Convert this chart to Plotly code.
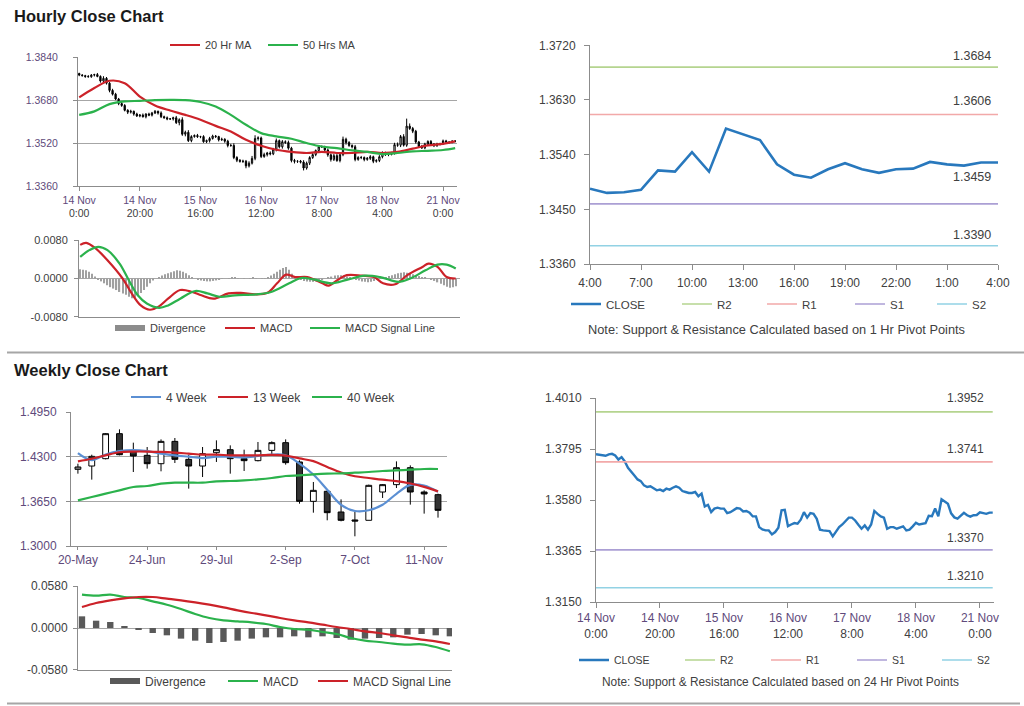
import plotly.graph_objects as go

W, H = 1024, 706
FONT = "Liberation Sans, Arial, sans-serif"
PURPLE = "#604a7b"
DARK = "#404040"
AXIS = "#8c8c8c"
GRID = "#a6a6a6"
PIP = 0.0001

# ================= HOURLY DATA (14 Nov 0:00 -> 21 Nov 4:00, 125 bars) =================
hour_close = [
    1.3773, 1.3771, 1.3768, 1.3767, 1.3773, 1.3775, 1.3768, 1.3751, 1.3761, 1.3743,
    1.3716, 1.3702, 1.3684, 1.3667, 1.3660, 1.3642, 1.3635, 1.3638, 1.3628, 1.3621,
    1.3624, 1.3618, 1.3628, 1.3624, 1.3632,
    1.3638, 1.3632, 1.3618, 1.3614, 1.3610, 1.3610, 1.3614, 1.3596, 1.3607, 1.3553,
    1.3560, 1.3529, 1.3544, 1.3548, 1.3544, 1.3544, 1.3525, 1.3529, 1.3537, 1.3546,
    1.3544, 1.3532, 1.3534, 1.3527, 1.3511,
    1.3511, 1.3466, 1.3456, 1.3452, 1.3452, 1.3435, 1.3445, 1.3463, 1.3537, 1.3539,
    1.3470, 1.3477, 1.3483, 1.3480, 1.3497, 1.3529, 1.3506, 1.3525, 1.3522, 1.3501,
    1.3455, 1.3452, 1.3452, 1.3449, 1.3427,
    1.3445, 1.3466, 1.3477, 1.3492, 1.3506, 1.3506, 1.3494, 1.3476, 1.3459, 1.3473,
    1.3455, 1.3477, 1.3534, 1.3522, 1.3511, 1.3506, 1.3459, 1.3466, 1.3466, 1.3459,
    1.3463, 1.3469, 1.3452, 1.3455, 1.3469,
    1.3484, 1.3477, 1.3478, 1.3482, 1.3514, 1.3512, 1.3544, 1.3512, 1.3583, 1.3574,
    1.3564, 1.3524, 1.3507, 1.3502, 1.3516, 1.3526, 1.3516, 1.3510, 1.3516, 1.3517,
    1.3528, 1.3524, 1.3522, 1.3527, 1.3527,
]
hour_first_open = 1.3779
hour_up_wick_pips = [
    3, 4, 3, 5, 4, 3, 6, 4, 8, 5, 4, 6, 5, 4, 7, 5, 4, 6, 3, 5, 4, 6, 3, 5, 4,
    5, 3, 6, 4, 5, 3, 4, 7, 5, 9, 6, 8, 5, 4, 6, 3, 5, 4, 6, 5, 4, 3, 6, 4, 5,
    6, 8, 5, 4, 6, 5, 7, 9, 12, 6, 5, 7, 4, 6, 5, 8, 4, 6, 5, 7, 5, 6, 4, 5, 7,
    6, 5, 7, 4, 6, 5, 4, 6, 5, 7, 6, 9, 10, 6, 5, 4, 7, 5, 6, 4, 5, 6, 4, 5, 6,
    5, 4, 6, 5, 7, 8, 6, 9, 28, 10, 6, 5, 4, 6, 5, 4, 5, 4, 5, 4, 5, 4, 3, 4, 3,
]
hour_dn_wick_pips = [
    4, 3, 5, 3, 4, 5, 3, 6, 4, 5, 7, 5, 4, 6, 5, 4, 7, 5, 6, 4, 5, 3, 6, 4, 5,
    4, 6, 5, 3, 5, 4, 6, 5, 10, 6, 8, 5, 6, 4, 5, 6, 4, 5, 7, 4, 5, 6, 4, 6, 7,
    5, 6, 7, 5, 6, 9, 6, 5, 7, 8, 6, 5, 7, 6, 5, 8, 6, 7, 5, 6, 7, 8, 6, 5, 9,
    6, 7, 5, 6, 5, 4, 6, 7, 8, 6, 5, 7, 6, 8, 5, 6, 7, 5, 6, 7, 5, 6, 7, 5, 6,
    6, 5, 6, 4, 5, 6, 7, 5, 6, 5, 7, 6, 5, 4, 5, 6, 4, 5, 4, 5, 4, 5, 4, 3, 4,
]
hour_ticks = [0, 20, 40, 60, 80, 100, 120]
hour_tick_days = ["14 Nov", "14 Nov", "15 Nov", "16 Nov", "17 Nov", "18 Nov", "21 Nov"]
hour_tick_times = ["0:00", "20:00", "16:00", "12:00", "8:00", "4:00", "0:00"]

ma_hours = [0, 5, 10, 15, 20, 25, 30, 35, 40, 45, 50, 55, 60, 65, 70, 75, 80, 85,
            90, 95, 100, 105, 110, 115, 120, 124]
ma20_hourly = [1.3690, 1.3725, 1.3752, 1.3743, 1.3693, 1.3660, 1.3641, 1.3625, 1.3607,
               1.3584, 1.3563, 1.3532, 1.3510, 1.3495, 1.3487, 1.3483, 1.3487, 1.3483,
               1.3483, 1.3487, 1.3483, 1.3487, 1.3499, 1.3511, 1.3517, 1.3526]
ma50_hourly = [1.3625, 1.3638, 1.3665, 1.3675, 1.3677, 1.3680, 1.3681, 1.3680, 1.3673,
               1.3656, 1.3625, 1.3588, 1.3557, 1.3545, 1.3536, 1.3520, 1.3507, 1.3501,
               1.3493, 1.3487, 1.3479, 1.3483, 1.3489, 1.3491, 1.3494, 1.3501]

macd_hourly_x = [0, 2, 5, 9, 14, 17, 20, 23, 26, 29, 33, 37, 40, 44, 49, 53, 58, 62,
                 65, 68, 71, 75, 80, 82, 85, 88, 93, 97, 100, 104, 108, 113, 115, 118, 121, 124]
macd_hourly = [0.0070, 0.0074, 0.0063, 0.0038, 0.0000, -0.0031, -0.0056, -0.0065, -0.0058,
               -0.0042, -0.0024, -0.0028, -0.0035, -0.0042, -0.0031, -0.0030, -0.0033, -0.0029,
               -0.0010, 0.0008, 0.0003, 0.0003, -0.0010, -0.0015, -0.0003, 0.0007, 0.0006,
               0.0003, -0.0010, -0.0012, 0.0007, 0.0024, 0.0031, 0.0024, 0.0003, 0.0000]
signal_hourly_x = [0, 3, 6, 9, 13, 16, 19, 22, 26, 29, 33, 38, 42, 46, 51, 58, 63, 69,
                   73, 77, 83, 88, 94, 99, 105, 109, 114, 118, 121, 124]
signal_hourly = [0.0045, 0.0059, 0.0066, 0.0059, 0.0031, -0.0003, -0.0035, -0.0052, -0.0061,
                 -0.0056, -0.0042, -0.0026, -0.0031, -0.0038, -0.0035, -0.0033, -0.0028, -0.0010,
                 0.0001, -0.0002, -0.0010, -0.0003, 0.0006, 0.0003, -0.0007, 0.0000, 0.0017,
                 0.0029, 0.0029, 0.0021]
divergence_hourly = [
    0.0019, 0.0018, 0.0017, 0.0014, 0.0010, 0.0004, -0.0002, -0.0006, -0.0010, -0.0014,
    -0.0018, -0.0021, -0.0024, -0.0028, -0.0031, -0.0034, -0.0038, -0.0041, -0.0040, -0.0036,
    -0.0030, -0.0024, -0.0017, -0.0010, -0.0004,
    0.0000, 0.0003, 0.0006, 0.0009, 0.0011, 0.0013, 0.0015, 0.0017, 0.0016, 0.0014,
    0.0011, 0.0007, 0.0003, 0.0000, -0.0002, -0.0004, -0.0005, -0.0006, -0.0006, -0.0005,
    -0.0004, -0.0002, -0.0001, 0.0000, 0.0001,
    0.0002, 0.0002, 0.0001, 0.0000, -0.0001, 0.0000, 0.0001, 0.0002, 0.0001, 0.0000,
    -0.0001, -0.0001, 0.0002, 0.0006, 0.0010, 0.0014, 0.0018, 0.0022, 0.0024, 0.0018,
    0.0010, 0.0004, -0.0001, -0.0003, -0.0005,
    -0.0006, -0.0007, -0.0007, -0.0006, -0.0004, -0.0002, 0.0000, 0.0002, 0.0004, 0.0006,
    0.0007, 0.0007, 0.0006, 0.0004, 0.0002, 0.0000, -0.0002, -0.0004, -0.0006, -0.0007,
    -0.0008, -0.0007, -0.0005, -0.0003, -0.0001,
    0.0001, 0.0003, 0.0005, 0.0007, 0.0009, 0.0011, 0.0012, 0.0013, 0.0012, 0.0011,
    0.0009, 0.0007, 0.0005, 0.0003, 0.0002, 0.0000, -0.0002, -0.0005, -0.0008, -0.0011,
    -0.0014, -0.0017, -0.0019, -0.0018, -0.0016,
]
macd_hourly_ticks = [-0.008, 0.0, 0.008]
macd_hourly_ticktext = ["-0.0080", "0.0000", "0.0080"]

last24_start = 100
last24_ticks = [0, 3, 6, 9, 12, 15, 18, 21, 24]
last24_labels = ["4:00", "7:00", "10:00", "13:00", "16:00", "19:00", "22:00", "1:00", "4:00"]

pivot_names = ["R2", "R1", "S1", "S2"]
pivot_1h_values = [1.3684, 1.3606, 1.3459, 1.3390]
pivot_24h_values = [1.3952, 1.3741, 1.3370, 1.3210]

# ================= WEEKLY DATA =================
weeks = ["20-May", "27-May", "3-Jun", "10-Jun", "17-Jun", "24-Jun", "1-Jul", "8-Jul",
         "15-Jul", "22-Jul", "29-Jul", "5-Aug", "12-Aug", "19-Aug", "26-Aug", "2-Sep",
         "9-Sep", "16-Sep", "23-Sep", "30-Sep", "7-Oct", "14-Oct", "21-Oct", "28-Oct",
         "4-Nov", "11-Nov", "18-Nov"]
week_tick_labels = ["20-May", "24-Jun", "29-Jul", "2-Sep", "7-Oct", "11-Nov"]
wk_open = [1.4116, 1.4164, 1.4271, 1.4635, 1.4368, 1.4320, 1.4198, 1.4523, 1.4261, 1.4164,
           1.4358, 1.4402, 1.4271, 1.4242, 1.4392, 1.4504, 1.4223, 1.3650, 1.3796, 1.3495,
           1.3379, 1.3374, 1.3786, 1.3893, 1.4140, 1.3786, 1.3747]
wk_close = [1.4150, 1.4305, 1.4635, 1.4329, 1.4310, 1.4198, 1.4523, 1.4261, 1.4164, 1.4344,
            1.4402, 1.4271, 1.4242, 1.4392, 1.4504, 1.4213, 1.3650, 1.3810, 1.3485, 1.3374,
            1.3364, 1.3883, 1.3893, 1.4140, 1.3786, 1.3757, 1.3519]
wk_high = [1.4198, 1.4329, 1.4644, 1.4698, 1.4504, 1.4441, 1.4552, 1.4572, 1.4329, 1.4441,
           1.4538, 1.4465, 1.4402, 1.4514, 1.4523, 1.4552, 1.4247, 1.3932, 1.3810, 1.3679,
           1.3495, 1.3893, 1.3902, 1.4232, 1.4174, 1.3810, 1.3762]
wk_low = [1.4053, 1.3966, 1.4261, 1.4320, 1.4077, 1.4126, 1.4087, 1.4208, 1.3835, 1.4004,
          1.4223, 1.4053, 1.4092, 1.4232, 1.4329, 1.4184, 1.3616, 1.3485, 1.3374, 1.3359,
          1.3141, 1.3374, 1.3699, 1.3844, 1.3602, 1.3471, 1.3413]
wk_ma4 = [1.4353, 1.4250, 1.4330, 1.4380, 1.4395, 1.4380, 1.4345, 1.4320, 1.4300, 1.4280,
          1.4300, 1.4300, 1.4290, 1.4310, 1.4330, 1.4320, 1.4200, 1.4040, 1.3820, 1.3600,
          1.3510, 1.3520, 1.3600, 1.3760, 1.3890, 1.3880, 1.3790]
wk_ma13 = [1.4232, 1.4270, 1.4320, 1.4365, 1.4375, 1.4375, 1.4370, 1.4360, 1.4345, 1.4330,
           1.4330, 1.4320, 1.4320, 1.4320, 1.4325, 1.4315, 1.4275, 1.4235, 1.4150, 1.4070,
           1.4015, 1.3990, 1.3965, 1.3945, 1.3910, 1.3860, 1.3795]
wk_ma40 = [1.3665, 1.3713, 1.3762, 1.3810, 1.3859, 1.3873, 1.3907, 1.3922, 1.3922, 1.3922,
           1.3941, 1.3946, 1.3956, 1.3970, 1.3990, 1.4019, 1.4029, 1.4043, 1.4053, 1.4058,
           1.4067, 1.4077, 1.4092, 1.4101, 1.4111, 1.4121, 1.4121]
wk_macd = [0.0460, 0.0446, 0.0460, 0.0428, 0.0414, 0.0368, 0.0322, 0.0262, 0.0193, 0.0138,
           0.0106, 0.0092, 0.0078, 0.0055, 0.0014, -0.0014, -0.0023, -0.0055, -0.0083, -0.0138,
           -0.0175, -0.0193, -0.0216, -0.0230, -0.0225, -0.0262, -0.0322]
wk_signal = [0.0290, 0.0345, 0.0382, 0.0409, 0.0428, 0.0428, 0.0405, 0.0382, 0.0354, 0.0322,
             0.0285, 0.0244, 0.0207, 0.0175, 0.0138, 0.0106, 0.0078, 0.0046, 0.0014, -0.0014,
             -0.0046, -0.0069, -0.0101, -0.0129, -0.0161, -0.0184, -0.0221]
wk_divergence = [0.0161, 0.0101, 0.0083, 0.0023, -0.0014, -0.0069, -0.0101, -0.0147, -0.0175,
                 -0.0207, -0.0193, -0.0175, -0.0147, -0.0129, -0.0129, -0.0115, -0.0129, -0.0115,
                 -0.0138, -0.0161, -0.0147, -0.0138, -0.0129, -0.0092, -0.0083, -0.0101, -0.0115]
macd_weekly_ticks = [-0.058, 0.0, 0.058]
macd_weekly_ticktext = ["-0.0580", "0.0000", "0.0580"]

# ================= derived =================
hour_idx = list(range(len(hour_close)))
hour_open = [hour_first_open] + hour_close[:-1]
hour_high = [max(o, c) + u * PIP for o, c, u in zip(hour_open, hour_close, hour_up_wick_pips)]
hour_low = [min(o, c) - d * PIP for o, c, d in zip(hour_open, hour_close, hour_dn_wick_pips)]
last24_close = hour_close[last24_start:]
last24_x = list(range(len(last24_close)))
wk_idx = list(range(len(weeks)))

# ================= helpers =================
def fx(p):
    return p / W


def fy(p):
    return 1 - p / H


legends = {}


def new_legend(sym_px, yc_px, size=11):
    n = len(legends) + 1
    key = "legend" if n == 1 else f"legend{n}"
    legends[key] = dict(
        x=fx(sym_px - 5), y=fy(yc_px), xanchor="left", yanchor="middle",
        orientation="h", bgcolor="rgba(0,0,0,0)", borderwidth=0,
        font=dict(family=FONT, size=size, color=DARK), itemwidth=30,
        itemclick=False, itemdoubleclick=False, tracegroupgap=0,
    )
    return key


RED = "#cc2229"
GREEN = "#2bb24c"
BLUE_MA = "#5b8fd3"
CLOSE_BLUE = "#2878bd"
PIVOT_COLORS = ["#b5d48f", "#f2a9a9", "#ab9fd4", "#92d2e4"]

fig = go.Figure()

# ---------- Panel 1: hourly candles ----------
fig.add_trace(go.Candlestick(
    x=hour_idx, open=hour_open, high=hour_high, low=hour_low, close=hour_close,
    increasing=dict(line=dict(color="black", width=1), fillcolor="white"),
    decreasing=dict(line=dict(color="black", width=1), fillcolor="black"),
    whiskerwidth=0, showlegend=False, xaxis="x", yaxis="y", hoverinfo="skip"))
fig.add_trace(go.Scatter(x=ma_hours, y=ma20_hourly, name="20 Hr MA", mode="lines",
                         line=dict(color=RED, width=2.2, shape="spline"),
                         xaxis="x", yaxis="y", legend=new_legend(170, 45)))
fig.add_trace(go.Scatter(x=ma_hours, y=ma50_hourly, name="50 Hrs MA", mode="lines",
                         line=dict(color=GREEN, width=2.2, shape="spline"),
                         xaxis="x", yaxis="y", legend=new_legend(268, 45)))

# ---------- Panel 2: hourly MACD ----------
fig.add_trace(go.Bar(x=hour_idx, y=divergence_hourly, width=0.4, marker=dict(color="#a0a0a0", line=dict(width=0)),
                     showlegend=False, xaxis="x2", yaxis="y2"))
fig.add_trace(go.Scatter(x=[None], y=[None], name="Divergence", mode="lines",
                         line=dict(color="#8c8c8c", width=6), xaxis="x2", yaxis="y2",
                         legend=new_legend(115, 328)))
fig.add_trace(go.Scatter(x=macd_hourly_x, y=macd_hourly, name="MACD", mode="lines",
                         line=dict(color=RED, width=2.2, shape="spline"),
                         xaxis="x2", yaxis="y2", legend=new_legend(225, 328)))
fig.add_trace(go.Scatter(x=signal_hourly_x, y=signal_hourly, name="MACD Signal Line", mode="lines",
                         line=dict(color=GREEN, width=2.2, shape="spline"),
                         xaxis="x2", yaxis="y2", legend=new_legend(310, 328)))

# ---------- Panel 3: last 24 hours close with 1 Hr pivots ----------
fig.add_trace(go.Scatter(x=last24_x, y=last24_close, name="CLOSE", mode="lines",
                         line=dict(color=CLOSE_BLUE, width=2.6), xaxis="x3", yaxis="y3",
                         legend=new_legend(571, 304, 11.5)))
for name, val, col, sp in zip(pivot_names, pivot_1h_values, PIVOT_COLORS, [682, 767, 855, 937]):
    fig.add_trace(go.Scatter(x=[last24_x[0], last24_x[-1]], y=[val, val], name=name, mode="lines",
                             line=dict(color=col, width=1.6), xaxis="x3", yaxis="y3",
                             legend=new_legend(sp, 304, 11.5)))

# ---------- Panel 4: weekly candles ----------
fig.add_trace(go.Candlestick(
    x=wk_idx, open=wk_open, high=wk_high, low=wk_low, close=wk_close,
    increasing=dict(line=dict(color="black", width=1), fillcolor="white"),
    decreasing=dict(line=dict(color="black", width=1), fillcolor="#333333"),
    whiskerwidth=0, showlegend=False, xaxis="x4", yaxis="y4", hoverinfo="skip"))
fig.add_trace(go.Scatter(x=wk_idx, y=wk_ma4, name="4 Week", mode="lines",
                         line=dict(color=BLUE_MA, width=2.2, shape="spline"),
                         xaxis="x4", yaxis="y4", legend=new_legend(131, 397, 12)))
fig.add_trace(go.Scatter(x=wk_idx, y=wk_ma13, name="13 Week", mode="lines",
                         line=dict(color=RED, width=2.2, shape="spline"),
                         xaxis="x4", yaxis="y4", legend=new_legend(218, 397, 12)))
fig.add_trace(go.Scatter(x=wk_idx, y=wk_ma40, name="40 Week", mode="lines",
                         line=dict(color=GREEN, width=2.2, shape="spline"),
                         xaxis="x4", yaxis="y4", legend=new_legend(312, 397, 12)))

# ---------- Panel 5: weekly MACD ----------
fig.add_trace(go.Bar(x=wk_idx, y=wk_divergence, width=0.45, marker=dict(color="#595959", line=dict(width=0)),
                     showlegend=False, xaxis="x5", yaxis="y5"))
fig.add_trace(go.Scatter(x=[None], y=[None], name="Divergence", mode="lines",
                         line=dict(color="#595959", width=6), xaxis="x5", yaxis="y5",
                         legend=new_legend(110, 681, 12)))
fig.add_trace(go.Scatter(x=wk_idx, y=wk_macd, name="MACD", mode="lines",
                         line=dict(color=GREEN, width=2.2, shape="spline"),
                         xaxis="x5", yaxis="y5", legend=new_legend(228, 681, 12)))
fig.add_trace(go.Scatter(x=wk_idx, y=wk_signal, name="MACD Signal Line", mode="lines",
                         line=dict(color=RED, width=2.2, shape="spline"),
                         xaxis="x5", yaxis="y5", legend=new_legend(318, 681, 12)))

# ---------- Panel 6: full hourly close with 24 Hr pivots ----------
fig.add_trace(go.Scatter(x=hour_idx, y=hour_close, name="CLOSE", mode="lines",
                         line=dict(color=CLOSE_BLUE, width=2.4), xaxis="x6", yaxis="y6",
                         legend=new_legend(579, 660, 10.5)))
for name, val, col, sp in zip(pivot_names, pivot_24h_values, PIVOT_COLORS, [685, 771, 857, 942]):
    fig.add_trace(go.Scatter(x=[hour_idx[0], hour_idx[-1]], y=[val, val], name=name, mode="lines",
                             line=dict(color=col, width=1.6), xaxis="x6", yaxis="y6",
                             legend=new_legend(sp, 660, 10.5)))

# ================= axes =================
hour_ticktext = [f"<span style='color:{PURPLE}'>{d}</span><br>{t}"
                 for d, t in zip(hour_tick_days, hour_tick_times)]
week_tickvals = [weeks.index(lbl) for lbl in week_tick_labels]


def base_axis(**kw):
    d = dict(showline=True, linecolor=AXIS, linewidth=1, zeroline=False, showgrid=False,
             ticks="outside", ticklen=4, tickcolor=AXIS, fixedrange=True)
    d.update(kw)
    return d


layout_axes = dict(
    xaxis=base_axis(domain=[fx(78), fx(457)], anchor="y", range=[-0.4, 124.6],
                    tickvals=hour_ticks, ticktext=hour_ticktext,
                    tickfont=dict(family=FONT, size=10.5, color=DARK),
                    rangeslider=dict(visible=False)),
    yaxis=base_axis(domain=[fy(186), fy(57)], anchor="x", range=[1.3360, 1.38405],
                    tick0=1.3360, dtick=0.016, tickformat=".4f",
                    tickfont=dict(family=FONT, size=10.5, color=PURPLE),
                    showgrid=True, gridcolor=GRID, ticklabelstandoff=13),
    xaxis2=base_axis(domain=[fx(79), fx(460)], anchor="y2", range=[-0.4, 125.4],
                     showticklabels=False, ticks=""),
    yaxis2=base_axis(domain=[fy(317), fy(240)], anchor="x2", range=[-0.00801, 0.00801],
                     tickvals=macd_hourly_ticks, ticktext=macd_hourly_ticktext,
                     tickfont=dict(family=FONT, size=11, color=DARK),
                     showgrid=True, gridcolor=GRID, ticklabelstandoff=4),
    xaxis3=base_axis(domain=[fx(590), fx(998)], anchor="y3", range=[0, 24],
                     tickvals=last24_ticks, ticktext=last24_labels, ticklen=5,
                     tickfont=dict(family=FONT, size=12, color=DARK), ticklabelstandoff=3),
    yaxis3=base_axis(domain=[fy(264), fy(45)], anchor="x3", range=[1.3360, 1.37205],
                     tick0=1.3360, dtick=0.009, tickformat=".4f", ticklen=5,
                     tickfont=dict(family=FONT, size=12, color=DARK), ticklabelstandoff=6),
    xaxis4=base_axis(domain=[fx(71), fx(447)], anchor="y4", range=[-0.5, 26.65],
                     tickvals=week_tickvals, ticktext=week_tick_labels, ticklen=3,
                     tickfont=dict(family=FONT, size=12, color=PURPLE),
                     rangeslider=dict(visible=False)),
    yaxis4=base_axis(domain=[fy(546), fy(412)], anchor="x4", range=[1.3000, 1.49505],
                     tick0=1.3000, dtick=0.065, tickformat=".4f",
                     tickfont=dict(family=FONT, size=12, color=PURPLE),
                     showgrid=True, gridcolor=GRID, ticklabelstandoff=7),
    xaxis5=base_axis(domain=[fx(78), fx(452)], anchor="y5", range=[-0.28, 26.15],
                     showticklabels=False, ticks=""),
    yaxis5=base_axis(domain=[fy(670), fy(586)], anchor="x5", range=[-0.05801, 0.05801],
                     tickvals=macd_weekly_ticks, ticktext=macd_weekly_ticktext,
                     tickfont=dict(family=FONT, size=12, color=DARK),
                     showgrid=True, gridcolor=GRID, ticklabelstandoff=3),
    xaxis6=base_axis(domain=[fx(596), fx(994)], anchor="y6", range=[0, 124.4],
                     tickvals=hour_ticks, ticktext=hour_ticktext, ticklen=5,
                     tickfont=dict(family=FONT, size=12, color=DARK)),
    yaxis6=base_axis(domain=[fy(602), fy(398)], anchor="x6", range=[1.3150, 1.40105],
                     tick0=1.3150, dtick=0.0215, tickformat=".4f", ticklen=5,
                     tickfont=dict(family=FONT, size=12, color=DARK), ticklabelstandoff=6),
)

# ================= annotations =================
annotations = [
    dict(text="<b>Hourly Close Chart</b>", x=fx(12), y=fy(16), xref="paper", yref="paper",
         xanchor="left", yanchor="middle", showarrow=False,
         font=dict(family=FONT, size=16.5, color="#1a1a1a")),
    dict(text="<b>Weekly Close Chart</b>", x=fx(12), y=fy(370), xref="paper", yref="paper",
         xanchor="left", yanchor="middle", showarrow=False,
         font=dict(family=FONT, size=16.5, color="#1a1a1a")),
    dict(text="Note: Support & Resistance Calculated based on 1 Hr Pivot Points",
         x=fx(776), y=fy(330), xref="paper", yref="paper", xanchor="center", yanchor="middle",
         showarrow=False, font=dict(family=FONT, size=12.8, color=DARK)),
    dict(text="Note: Support & Resistance Calculated based on 24 Hr Pivot Points",
         x=fx(780), y=fy(682), xref="paper", yref="paper", xanchor="center", yanchor="middle",
         showarrow=False, font=dict(family=FONT, size=11.9, color=DARK)),
]
for val, ysh in zip(pivot_1h_values, [2, 4.5, 18, 1.5]):
    annotations.append(dict(text=f"{val:.4f}", x=last24_x[-1], y=val, xref="x3", yref="y3",
                            xanchor="right", yanchor="bottom", xshift=-5, yshift=ysh,
                            showarrow=False, font=dict(family=FONT, size=12.5, color=DARK)))
for val, ysh in zip(pivot_24h_values, [4.5, 3.5, 2.5, 2.5]):
    annotations.append(dict(text=f"{val:.4f}", x=hour_idx[-1], y=val, xref="x6", yref="y6",
                            xanchor="right", yanchor="bottom", xshift=-7, yshift=ysh,
                            showarrow=False, font=dict(family=FONT, size=12, color=DARK)))

shapes = [
    dict(type="line", xref="paper", yref="paper", x0=fx(7), x1=1, y0=fy(352.5), y1=fy(352.5),
         line=dict(color="#a6a6a6", width=2)),
    dict(type="line", xref="paper", yref="paper", x0=fx(7), x1=fx(1020), y0=fy(703.5), y1=fy(703.5),
         line=dict(color="#a6a6a6", width=2)),
]

fig.update_layout(
    width=W, height=H, margin=dict(l=0, r=0, t=0, b=0, autoexpand=False),
    paper_bgcolor="white", plot_bgcolor="white",
    font=dict(family=FONT, size=11, color=DARK),
    showlegend=True, boxgap=0.4, hovermode=False,
    annotations=annotations, shapes=shapes,
    **layout_axes, **legends,
)

fig.write_html("out.html", post_script="document.body.style.margin='0';",
               config={"displayModeBar": False})
